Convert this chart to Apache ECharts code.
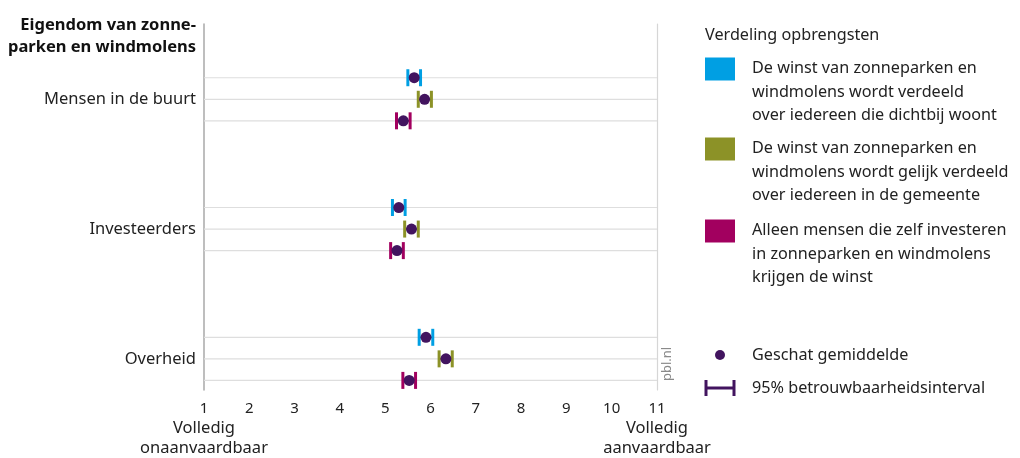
<!DOCTYPE html>
<html>
<head>
<meta charset="utf-8">
<script src="https://cdn.jsdelivr.net/npm/echarts@6/dist/echarts.min.js"></script>
<style>
  html, body { margin: 0; padding: 0; background: #fff; }
  #chart { width: 1020px; height: 458px; }
</style>
</head>
<body>
<div id="chart"></div>
<script>
// eigenaren (y-as)
var categories = ['Mensen in de buurt', 'Investeerders', 'Overheid']
var endLabels = ['Volledig\nonaanvaardbaar', 'Volledig\naanvaardbaar']
var endValues = [1, 11]

// gemiddelde en 95%-interval per verdeling
var buurtMean = [5.64, 5.30, 5.90]
var buurtLow = [5.50, 5.16, 5.75]
var buurtHigh = [5.78, 5.44, 6.05]

var gemeenteMean = [5.87, 5.58, 6.34]
var gemeenteLow = [5.73, 5.43, 6.19]
var gemeenteHigh = [6.02, 5.73, 6.48]

var investMean = [5.40, 5.26, 5.53]
var investLow = [5.25, 5.12, 5.39]
var investHigh = [5.55, 5.40, 5.67]

var seriesNames = [
  'De winst van zonneparken en\nwindmolens wordt verdeeld\nover iedereen die dichtbij woont',
  'De winst van zonneparken en\nwindmolens wordt gelijk verdeeld\nover iedereen in de gemeente',
  'Alleen mensen die zelf investeren\nin zonneparken en windmolens\nkrijgen de winst'
]
var colors = ['#009fe3', '#8c9227', '#a2005f']
var dotColor = '#42145f'
var font = 'Noto Sans'
var legendFont = '16.2px "' + font + '"'

var rowOffset = [-0.166, 0, 0.166]

function ciData (low, high, k) {
  return low.map(function (l, i) { return [l, high[i], i + rowOffset[k]] })
}
function dotData (mean, k) {
  return mean.map(function (m, i) { return [m, i + rowOffset[k]] })
}

var gridRows = []
categories.forEach(function (c, i) {
  rowOffset.forEach(function (o) { gridRows.push([endValues[0], endValues[1], i + o]) })
})

function renderGrid (params, api) {
  var y = api.value(2)
  var a = api.coord([api.value(0), y])
  var b = api.coord([api.value(1), y])
  return {
    type: 'line',
    shape: { x1: a[0], y1: a[1], x2: b[0], y2: b[1] },
    style: { stroke: '#dedede', lineWidth: 1.2 }
  }
}

function renderCI (params, api) {
  var y = api.value(2)
  var lo = api.coord([api.value(0), y])
  var hi = api.coord([api.value(1), y])
  var h = 8.5
  var c = api.visual('color')
  return {
    type: 'group',
    children: [
      { type: 'line', shape: { x1: lo[0], y1: lo[1], x2: hi[0], y2: hi[1] }, style: { stroke: c, lineWidth: 2 } },
      { type: 'line', shape: { x1: lo[0], y1: lo[1] - h, x2: lo[0], y2: lo[1] + h }, style: { stroke: c, lineWidth: 3 } },
      { type: 'line', shape: { x1: hi[0], y1: hi[1] - h, x2: hi[0], y2: hi[1] + h }, style: { stroke: c, lineWidth: 3 } }
    ]
  }
}

var ciSets = [
  ciData(buurtLow, buurtHigh, 0),
  ciData(gemeenteLow, gemeenteHigh, 1),
  ciData(investLow, investHigh, 2)
]
var dotSets = [
  dotData(buurtMean, 0),
  dotData(gemeenteMean, 1),
  dotData(investMean, 2)
]

var series = [{
  type: 'custom',
  renderItem: renderGrid,
  data: gridRows,
  encode: { x: [0, 1], y: 2 },
  silent: true,
  z: 1
}]
ciSets.forEach(function (d, k) {
  series.push({
    name: seriesNames[k],
    type: 'custom',
    renderItem: renderCI,
    data: d,
    encode: { x: [0, 1], y: 2 },
    itemStyle: { color: colors[k] },
    z: 3
  })
})
dotSets.forEach(function (d, k) {
  series.push({
    type: 'scatter',
    data: d,
    symbolSize: 11,
    itemStyle: { color: dotColor, opacity: 1 },
    z: 5
  })
})

// legenda rechts
var legendTop = [69, 149, 231]
var graphic = [
  {
    type: 'text', x: 196, y: 14,
    style: { text: 'Eigendom van zonne-\nparken en windmolens', font: 'bold 16.5px "' + font + '"', fill: '#111', align: 'right', verticalAlign: 'top', lineHeight: 22 }
  },
  {
    type: 'text', x: 705, y: 35,
    style: { text: 'Verdeling opbrengsten', font: legendFont, fill: '#222', verticalAlign: 'middle' }
  },
  {
    type: 'text', x: 667, y: 381, rotation: Math.PI / 2,
    style: { text: 'pbl.nl', font: '13px "' + font + '"', fill: '#8a8a8a', verticalAlign: 'middle' }
  },
  {
    type: 'circle', shape: { cx: 720, cy: 355, r: 5 }, style: { fill: dotColor }
  },
  {
    type: 'text', x: 752, y: 355,
    style: { text: 'Geschat gemiddelde', font: legendFont, fill: '#222', verticalAlign: 'middle' }
  },
  { type: 'line', shape: { x1: 706, y1: 388, x2: 734, y2: 388 }, style: { stroke: dotColor, lineWidth: 3 } },
  { type: 'line', shape: { x1: 706, y1: 380, x2: 706, y2: 396 }, style: { stroke: dotColor, lineWidth: 3 } },
  { type: 'line', shape: { x1: 734, y1: 380, x2: 734, y2: 396 }, style: { stroke: dotColor, lineWidth: 3 } },
  {
    type: 'text', x: 752, y: 388,
    style: { text: '95% betrouwbaarheidsinterval', font: legendFont, fill: '#222', verticalAlign: 'middle' }
  }
]
seriesNames.forEach(function (n, k) {
  graphic.push({ type: 'rect', shape: { x: 705, y: legendTop[k] - 11.5, width: 30, height: 23 }, style: { fill: colors[k] } })
  graphic.push({
    type: 'text', x: 752, y: legendTop[k] - 12,
    style: { text: n, font: legendFont, fill: '#222', verticalAlign: 'top', lineHeight: 23.5 }
  })
})

var option = {
  animation: false,
  textStyle: { fontFamily: font },
  grid: { left: 204, right: 363, top: 24, bottom: 68 },
  xAxis: [{
    type: 'value',
    min: endValues[0],
    max: endValues[1],
    interval: 1,
    axisLine: { show: false },
    axisTick: { show: false },
    splitLine: { show: false },
    axisLabel: {
      margin: 11,
      color: '#222',
      fontSize: 15,
      verticalAlign: 'top',
      showMinLabel: true,
      showMaxLabel: true,
      hideOverlap: false,
      alignMinLabel: 'center',
      alignMaxLabel: 'center'
    }
  }, {
    type: 'value',
    position: 'bottom',
    min: endValues[0],
    max: endValues[1],
    axisLine: { show: false },
    axisTick: { show: false },
    splitLine: { show: false },
    axisLabel: {
      customValues: endValues,
      margin: 29,
      color: '#222',
      fontSize: 16.5,
      lineHeight: 19.5,
      verticalAlign: 'top',
      alignMinLabel: 'center',
      alignMaxLabel: 'center',
      formatter: function (v) { return v === endValues[0] ? endLabels[0] : endLabels[1] }
    }
  }],
  yAxis: [{
    type: 'value',
    inverse: true,
    min: -0.58,
    max: 2.24,
    axisLine: { show: true, lineStyle: { color: '#a8a8a8', width: 1.5 } },
    axisTick: { show: false },
    splitLine: { show: false },
    axisLabel: {
      customValues: [0, 1, 2],
      margin: 8,
      color: '#222',
      fontSize: 16.5,
      formatter: function (v) { return categories[Math.round(v)] || '' }
    }
  }, {
    type: 'value',
    position: 'right',
    inverse: true,
    min: -0.58,
    max: 2.24,
    axisLine: { show: true, lineStyle: { color: '#d6d6d6', width: 1.2 } },
    axisTick: { show: false },
    splitLine: { show: false },
    axisLabel: { show: false }
  }],
  graphic: graphic,
  series: series
}

var chart = echarts.init(document.getElementById('chart'))
chart.setOption(option)
</script>
</body>
</html>
